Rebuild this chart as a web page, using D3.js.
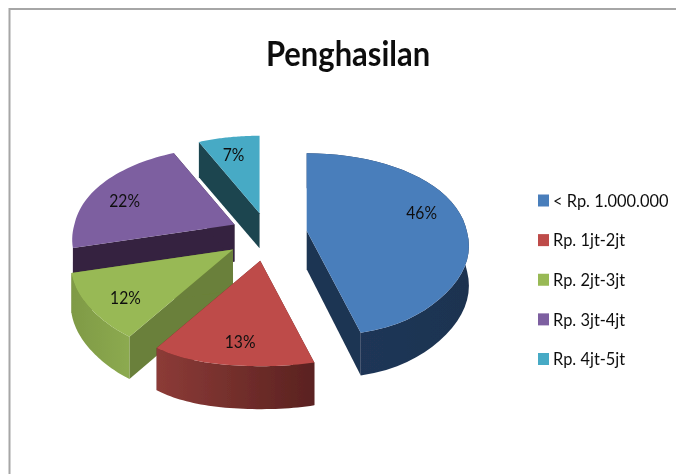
<!DOCTYPE html>
<html>
<head>
<meta charset="utf-8">
<script src="https://d3js.org/d3.v7.min.js"></script>
<style>
  html, body { margin: 0; padding: 0; background: #fff; }
  svg { display: block; }
  text { font-family: Lato, "Open Sans", sans-serif; fill: #111; }
</style>
</head>
<body>
<div id="chart"></div>
<script>
// values
const categories = ["< Rp. 1.000.000", "Rp. 1jt-2jt", "Rp. 2jt-3jt", "Rp. 3jt-4jt", "Rp. 4jt-5jt"];
const percents = [46, 13, 12, 22, 7];
const chartTitle = "Penghasilan";

const topColors = ["#4a7ebb", "#be4b48", "#98b954", "#7d5fa0", "#46aac5"];
const wallColors = ["#1f3552", "#5f2523", "#6b803a", "#35233f", "#1c4450"];
const rimLeft = ["#20375a", "#8c3b37", "#7f9a45", "#3e2a4c", "#1c4450"];
const rimRight = ["#1e3350", "#5a2220", "#8caa50", "#3e2a4c", "#1c4450"];
const explode = [1, 1.08, 1.05, 0.9, 0.85];
const drawOrder = [4, 3, 0, 2, 1];
const hiddenRim = [3, 4]; // back slices, their outer wall is never seen

const width = 676, height = 474;
const cx = 267, cy = 234;          // pie centre
const explodeX = 40, explodeY = 25; // how far the slices are pulled out

const svg = d3.select("#chart").append("svg")
    .attr("width", width)
    .attr("height", height);

const defs = svg.append("defs");
defs.append("filter").attr("id", "soft")
    .attr("x", "-5%").attr("y", "-5%").attr("width", "110%").attr("height", "110%")
  .append("feGaussianBlur").attr("stdDeviation", 0.45);

// frame of the screenshot
svg.append("path")
    .attr("d", "M9.5,474V9H676")
    .attr("fill", "none")
    .attr("stroke", "#a6a6a6")
    .attr("stroke-width", 2);

const g = svg.append("g").attr("filter", "url(#soft)");

const pie = d3.pie().sort(null).value(d => d)
    .startAngle(0).endAngle(2 * Math.PI);
const arcs = pie(percents);

// flattened 3d view, front of the pie is bigger than the back
const xScale = d3.scaleLinear().domain([-1, 1]).range([-160, 160]);
const yScale = d3.scaleLinear().domain([-1, 1]).range([-91.5, 91.5]);

function rim(angle, f = 1) {
  const X = Math.sin(angle), Y = -Math.cos(angle);
  const grow = Y < 0 ? 1 + 0.12 * Y : 1 + 0.17 * Y + 0.25 * Math.pow(Y, 8);
  return [f * xScale(X) * grow, f * (yScale(Y) + 14 * Y * Y)];
}

function apex(d, i) {
  const mid = (d.startAngle + d.endAngle) / 2;
  return [cx + explode[i] * explodeX * Math.sin(mid), cy - explode[i] * explodeY * Math.cos(mid)];
}

const depth = angle => 39 - 4 * Math.cos(angle);
const line = d3.line();

// the original font is narrow and tall, squeeze ours to the same width
function squeeze(sel, k) {
  sel.each(function() {
    d3.select(this)
        .attr("textLength", this.getComputedTextLength() * k)
        .attr("lengthAdjust", "spacingAndGlyphs");
  });
}

drawOrder.forEach(i => {
  const d = arcs[i];
  const a = apex(d, i);
  const steps = d3.range(0, 41).map(k => d.startAngle + (d.endAngle - d.startAngle) * k / 40);
  const top = steps.map(t => { const p = rim(t); return [a[0] + p[0], a[1] + p[1]]; });
  const low = steps.map((t, k) => [top[k][0], top[k][1] + depth(t)]);
  const mid = (d.startAngle + d.endAngle) / 2;
  const aLow = [a[0], a[1] + depth(mid)];

  const grad = defs.append("linearGradient").attr("id", "rim" + i)
      .attr("gradientUnits", "userSpaceOnUse")
      .attr("x1", d3.min(top, p => p[0])).attr("x2", d3.max(top, p => p[0]))
      .attr("y1", 0).attr("y2", 0);
  grad.append("stop").attr("offset", 0).attr("stop-color", rimLeft[i]);
  grad.append("stop").attr("offset", 1).attr("stop-color", rimRight[i]);

  // radial walls
  [[top[0], low[0]], [top[40], low[40]]].forEach(e => {
    g.append("path")
        .attr("d", line([a, e[0], e[1], aLow]) + "Z")
        .attr("fill", wallColors[i]);
  });
  // outer wall
  if (!hiddenRim.includes(i)) {
    g.append("path")
        .attr("d", line(top.concat(low.slice().reverse())) + "Z")
        .attr("fill", `url(#rim${i})`);
  }
  // top face
  g.append("path")
      .attr("d", line([a].concat(top)) + "Z")
      .attr("fill", topColors[i]);
});

// percent labels, a bit before the middle of each slice
const labelAngle = d => d.startAngle + (d.endAngle - d.startAngle) * 0.45;
g.selectAll(".pct")
  .data(arcs)
  .join("text")
    .attr("class", "pct")
    .attr("x", (d, i) => apex(d, i)[0] + rim(labelAngle(d), 0.77)[0])
    .attr("y", (d, i) => apex(d, i)[1] + rim(labelAngle(d), 0.77)[1])
    .attr("dy", "0.36em")
    .attr("text-anchor", "middle")
    .attr("font-size", 18)
    .text(d => d.data + "%")
    .call(squeeze, 0.87);

// title
g.append("text")
    .attr("x", 348)
    .attr("y", 66)
    .attr("text-anchor", "middle")
    .attr("font-size", 34)
    .attr("font-weight", 700)
    .text(chartTitle)
    .call(squeeze, 0.91);

// legend
const legendY = d3.scalePoint().domain(categories).range([200.5, 359]);
const legend = g.selectAll(".legend")
  .data(categories)
  .join("g")
    .attr("class", "legend")
    .attr("transform", d => `translate(538,${legendY(d)})`);
legend.append("rect")
    .attr("y", -6)
    .attr("width", 11)
    .attr("height", 12)
    .attr("fill", (d, i) => topColors[i]);
legend.append("text")
    .attr("x", 15)
    .attr("dy", "0.36em")
    .attr("font-size", 17)
    .text(d => d)
    .call(squeeze, 0.965);
</script>
</body>
</html>
